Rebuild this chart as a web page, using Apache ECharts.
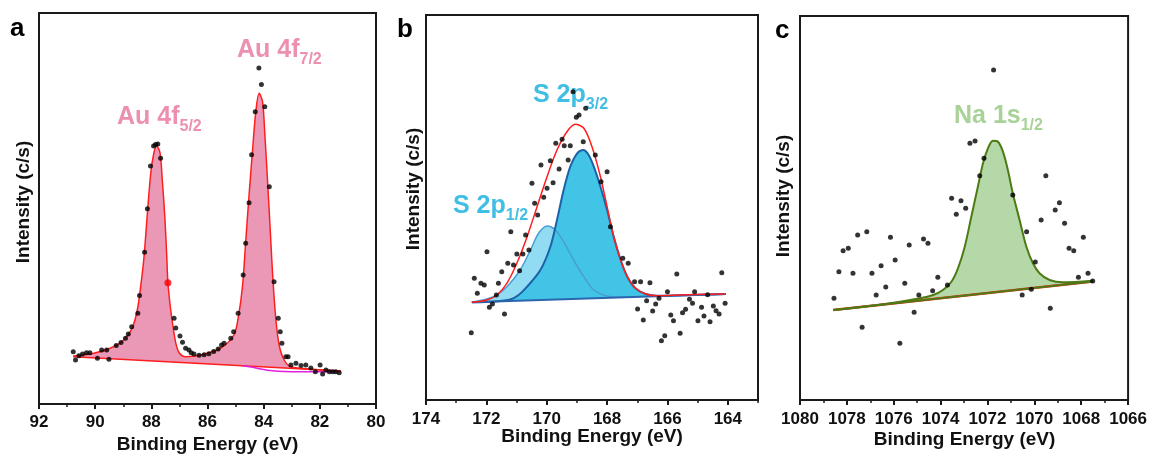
<!DOCTYPE html>
<html>
<head>
<meta charset="utf-8">
<script src="https://cdn.jsdelivr.net/npm/echarts@6/dist/echarts.min.js"></script>
<style>
  html, body { margin: 0; padding: 0; background: #fff; }
  #chart { width: 1150px; height: 455px; }
</style>
</head>
<body>
<div id="chart"></div>
<script>
// tick labels
var aTicks = [80, 82, 84, 86, 88, 90, 92];
var aMinor = [81, 83, 85, 87, 89, 91];
var bTicks = [164, 166, 168, 170, 172, 174];
var bMinor = [163, 165, 167, 169, 171, 173];
var cTicks = [1066, 1068, 1070, 1072, 1074, 1076, 1078, 1080];
var cMinor = [1067, 1069, 1071, 1073, 1075, 1077, 1079];

// a: Au 4f  [binding energy eV, intensity a.u.]
var auDots = [
  [90.78, 52.3], [90.70, 44], [90.58, 48.3], [90.45, 50], [90.31, 51.3], [90.19, 51.3],
  [89.92, 45.7], [89.77, 54], [89.59, 54], [89.51, 44.7], [89.25, 58.5], [89.08, 61.5],
  [88.92, 65.7], [88.82, 70], [88.70, 77.3], [88.48, 90.7], [88.42, 108.5], [88.24, 151.8],
  [88.14, 195.2], [88.03, 238], [87.92, 258], [87.85, 259.5], [87.77, 260], [87.67, 245.7],
  [87.19, 85.7], [87.13, 76], [86.98, 68], [86.89, 61.8], [86.78, 55.7], [86.66, 54],
  [86.58, 51.3], [86.48, 50], [86.30, 48.8], [86.12, 49.2], [85.95, 50.2], [85.78, 52.5],
  [85.62, 55], [85.50, 59], [85.41, 60.7], [85.17, 65.7], [85.07, 72.3], [84.91, 90.7],
  [84.73, 129], [84.64, 160.7], [84.52, 201.3], [84.43, 249.3], [84.30, 292.3], [84.17, 336],
  [84.08, 319.5], [83.96, 297.3], [83.80, 217.3], [83.63, 122.3], [83.48, 85.7], [83.41, 72.3],
  [83.35, 60.7], [83.21, 47.3], [83.13, 47.3], [83.03, 39], [82.85, 40.7], [82.67, 38.5],
  [82.50, 39], [82.32, 36], [82.16, 32.3], [81.99, 39], [81.90, 30], [81.78, 34],
  [81.66, 32.3], [81.54, 32.3], [81.43, 32.3], [81.31, 31.3]
];
var auMarked = [[87.41, 121.3]];
var auFit = [
  [90.78, 48], [90.05, 50.7], [89.45, 56], [88.98, 64], [88.68, 76], [88.50, 94],
  [88.38, 117.3], [88.26, 147.3], [88.14, 191], [88.02, 231], [87.91, 251], [87.81, 258],
  [87.69, 251], [87.61, 224], [87.52, 187.3], [87.45, 147.3], [87.41, 121.3], [87.31, 94],
  [87.21, 74], [87.13, 61], [87.01, 51.3], [86.78, 47.3], [86.24, 49], [85.53, 56],
  [85.06, 69], [84.89, 89], [84.75, 119], [84.64, 162.3], [84.52, 209], [84.40, 252.3],
  [84.28, 292.3], [84.16, 310.7], [84.04, 302.3], [83.95, 265.7], [83.86, 222.3], [83.77, 176],
  [83.68, 129], [83.57, 86], [83.45, 59], [83.27, 44], [83.03, 37.3], [82.2, 34.6], [81.25, 33]
];
var auBase = [[90.78, 47.3], [81.25, 33]];
var auShirley = [
  [84.75, 38.2], [84.45, 37], [84.15, 35.3], [83.85, 33.8], [83.5, 32.8], [83.0, 32.3],
  [82.0, 32.2], [81.25, 32.4]
];

// b: S 2p
var sDots = [
  [172.50, 67.3], [172.40, 121.7], [172.30, 106.7], [172.18, 116.7], [172.07, 115], [171.98, 148.3],
  [171.90, 92.7], [171.80, 96], [171.67, 105], [171.60, 116.7], [171.49, 128.3], [171.40, 86],
  [171.29, 136.7], [171.19, 168.3], [171.10, 135], [170.99, 146], [170.90, 129.3], [170.79, 146],
  [170.70, 165], [170.59, 150], [170.49, 216.7], [170.40, 196.7], [170.30, 185], [170.19, 235],
  [170.10, 202.7], [169.99, 211.7], [169.88, 239.3], [169.79, 217.3], [169.70, 256.7], [169.59, 231],
  [169.49, 260.7], [169.42, 254.3], [169.29, 240], [169.22, 254.3], [169.13, 308.3], [169.02, 282.7],
  [168.93, 285], [168.79, 258.3], [168.71, 291.7], [168.39, 245], [168.20, 218.3], [168.00, 228.3],
  [167.89, 173.3], [167.48, 141.7], [167.30, 136.7], [167.09, 118.3], [166.99, 91], [166.89, 118.3],
  [166.80, 80], [166.69, 99.3], [166.58, 117.3], [166.49, 89], [166.39, 96], [166.28, 101.7],
  [166.20, 59.3], [166.09, 64.3], [166.00, 108.3], [165.89, 85], [165.80, 79.3], [165.69, 126],
  [165.58, 66.7], [165.50, 87.3], [165.40, 90.7], [165.27, 100.7], [165.17, 96.7], [165.10, 108.3],
  [164.99, 79.3], [164.87, 92.7], [164.79, 84], [164.67, 105.3], [164.59, 78.3], [164.48, 94],
  [164.39, 89.3], [164.29, 86], [164.20, 127.3], [164.09, 96.7]
];
var sEnvelope = [
  [172.48, 97.7], [171.98, 100], [171.65, 105], [171.32, 116.7], [170.99, 136.7], [170.65, 163.3],
  [170.32, 193.3], [169.99, 223.3], [169.66, 250], [169.33, 268.3], [169.05, 275.7], [168.77, 271.7],
  [168.50, 253.3], [168.22, 223.3], [168.00, 193.3], [167.78, 163.3], [167.55, 140], [167.33, 123.3],
  [167.06, 111.7], [166.72, 106], [166.34, 104.2], [165.12, 105.4], [164.07, 106]
];
var s32 = [
  [172.48, 97.7], [171.7, 98.5], [171.21, 100.5], [170.93, 105], [170.65, 113.3], [170.21, 130],
  [169.88, 153.3], [169.66, 180], [169.44, 210], [169.22, 233.3], [168.99, 246.7], [168.79, 250],
  [168.61, 245], [168.44, 233.3], [168.22, 213.3], [168.00, 190], [167.78, 163.3], [167.55, 140],
  [167.33, 123.3], [167.06, 111.7], [166.72, 106], [166.34, 104.2], [164.07, 106]
];
var s12 = [
  [172.48, 97.7], [171.76, 103.3], [171.32, 113.3], [170.88, 130], [170.54, 150], [170.27, 166.7],
  [169.99, 174], [169.71, 170], [169.44, 158.3], [169.11, 140], [168.77, 123.3], [168.44, 110],
  [168.00, 104], [167.55, 103], [167.2, 103.3]
];
var sBase = [[172.48, 97.7], [164.07, 106]];

// c: Na 1s
var naDots = [
  [1078.55, 101.7], [1078.34, 128.3], [1078.16, 149.3], [1077.94, 151.7], [1077.74, 126.7], [1077.54, 165],
  [1077.35, 72.7], [1077.15, 168.3], [1076.93, 126.7], [1076.75, 105], [1076.54, 134.3], [1076.34, 113],
  [1076.14, 162.7], [1075.94, 140], [1075.74, 56.7], [1075.53, 116.7], [1075.34, 155], [1075.13, 87.7],
  [1074.93, 105], [1074.73, 161], [1074.54, 156.7], [1074.34, 109.3], [1074.12, 122.7], [1073.71, 115],
  [1073.53, 201.7], [1073.33, 185.7], [1073.13, 199.3], [1072.93, 191.7], [1072.75, 256.7], [1072.53, 259],
  [1072.33, 224.3], [1072.15, 241.7], [1071.74, 330], [1070.92, 205], [1070.52, 105], [1070.33, 168.3],
  [1070.13, 110.7], [1069.96, 138], [1069.71, 180], [1069.51, 224.3], [1069.32, 91.7], [1069.11, 190],
  [1068.93, 197.3], [1068.71, 176.7], [1068.52, 151.7], [1068.32, 149.3], [1068.12, 122.7], [1067.91, 162.7],
  [1067.71, 126.7], [1067.51, 119]
];
var naFit = [
  [1078.58, 90], [1076.6, 95.2], [1074.89, 101.7], [1074.32, 105], [1073.90, 110], [1073.54, 118.3],
  [1073.26, 131.7], [1072.97, 153.3], [1072.69, 183.3], [1072.41, 213.3], [1072.19, 236.7], [1071.98, 251.7],
  [1071.77, 259.3], [1071.55, 258.3], [1071.34, 248.3], [1071.13, 230], [1070.92, 206.7], [1070.63, 180],
  [1070.34, 153.3], [1070.06, 136.7], [1069.78, 126.7], [1069.35, 120], [1068.79, 117.7], [1067.51, 119.3]
];
var naBase = [[1078.58, 90], [1067.51, 118.5]];

var FONT = '"Liberation Sans", Arial, sans-serif';
var INK = '#1a1a1a';

function grid(left, top, width, height) {
    return {
        left: left, top: top, width: width, height: height,
        show: true, borderColor: INK, borderWidth: 2,
        backgroundColor: 'transparent', z: 10
    };
}

function mainX(gi, min, max, ticks, margin) {
    return {
        gridIndex: gi, type: 'value', inverse: true, min: min, max: max, position: 'bottom',
        axisLine: { show: false },
        splitLine: { show: false },
        axisTick: { show: true, length: 5, lineStyle: { color: INK, width: 2 }, customValues: ticks },
        axisLabel: {
            customValues: ticks, margin: margin, color: '#111',
            fontSize: 17, fontWeight: 'bold', fontFamily: FONT,
            formatter: function (v) { return String(v); }
        }
    };
}

function minorX(gi, min, max, ticks) {
    return {
        gridIndex: gi, type: 'value', inverse: true, min: min, max: max, position: 'bottom',
        axisLine: { show: false },
        splitLine: { show: false },
        axisLabel: { show: false },
        axisTick: { show: true, length: 3, lineStyle: { color: INK, width: 1.5 }, customValues: ticks }
    };
}

function fill(data, color, gi, z) {
    return {
        type: 'line', xAxisIndex: gi, yAxisIndex: gi, data: data, smooth: 0.3,
        symbol: 'none', lineStyle: { width: 0, opacity: 0 },
        areaStyle: { color: color, opacity: 1, origin: 'start' }, z: z, silent: true
    };
}

// white cover below the background line, a little wider than the peak fills
function mask(base, gi) {
    var pad = 0.2;
    var data = [[base[0][0] + pad, base[0][1]], base[0], base[1], [base[1][0] - pad, base[1][1]]];
    return {
        type: 'line', xAxisIndex: gi, yAxisIndex: gi, data: data, smooth: false,
        symbol: 'none', lineStyle: { width: 0, opacity: 0 },
        areaStyle: { color: '#ffffff', opacity: 1, origin: 'start' }, z: 2, silent: true
    };
}

function curve(data, color, width, gi, z) {
    return {
        type: 'line', xAxisIndex: gi, yAxisIndex: gi, data: data, smooth: 0.3,
        symbol: 'none', lineStyle: { color: color, width: width }, z: z, silent: true
    };
}

function dots(data, color, size, gi, z) {
    return {
        type: 'scatter', xAxisIndex: gi, yAxisIndex: gi, data: data,
        symbol: 'circle', symbolSize: size, itemStyle: { color: color }, z: z
    };
}

function peakLabel(x, y, main, sub, color) {
    return {
        type: 'text', x: x, y: y, z: 1,
        style: {
            text: '{m|' + main + '}{s|' + sub + '}',
            verticalAlign: 'top', align: 'left',
            rich: {
                m: { fontSize: 25, fontWeight: 'bold', fontFamily: FONT, fill: color, lineHeight: 25, verticalAlign: 'top' },
                s: { fontSize: 16, fontWeight: 'bold', fontFamily: FONT, fill: color, lineHeight: 16, verticalAlign: 'top', padding: [14, 0, 0, 0] }
            }
        }
    };
}

function yTitle(x, y) {
    return {
        type: 'text', x: x, y: y, rotation: Math.PI / 2,
        style: {
            text: 'Intensity (c/s)', align: 'center', verticalAlign: 'middle',
            font: 'bold 19px ' + FONT, fill: '#111'
        }
    };
}

function xTitle(x, y) {
    return {
        type: 'text', x: x, y: y,
        style: {
            text: 'Binding Energy (eV)', align: 'center', verticalAlign: 'middle',
            font: 'bold 19px ' + FONT, fill: '#111'
        }
    };
}

function letter(x, y, t) {
    return {
        type: 'text', x: x, y: y,
        style: { text: t, align: 'left', verticalAlign: 'middle', font: 'bold 26px ' + FONT, fill: '#000' }
    };
}

var option = {
    animation: false,
    backgroundColor: '#fff',
    grid: [
        grid(39, 13, 337, 391),
        grid(426, 15, 332, 385),
        grid(800, 16, 329, 384)
    ],
    xAxis: [
        mainX(0, 80, 92, aTicks, 10),
        mainX(1, 163, 174, bTicks, 11),
        mainX(2, 1066, 1080, cTicks, 11),
        minorX(0, 80, 92, aMinor),
        minorX(1, 163, 174, bMinor),
        minorX(2, 1066, 1080, cMinor)
    ],
    yAxis: [
        { gridIndex: 0, type: 'value', min: 0, max: 391, show: false },
        { gridIndex: 1, type: 'value', min: 0, max: 385, show: false },
        { gridIndex: 2, type: 'value', min: 0, max: 384, show: false }
    ],
    series: [
        // a
        fill(auFit, '#eb98b6', 0, 1),
        mask(auBase, 0),
        curve(auBase, '#ff1e1e', 1.5, 0, 3),
        curve(auShirley, '#e020e0', 1.5, 0, 3),
        curve(auFit, '#ff1e1e', 1.5, 0, 3),
        dots(auDots, '#000', 5, 0, 4),
        dots(auMarked, '#ff0000', 7, 0, 5),
        // b
        fill(s12, '#91dcf2', 1, 1),
        fill(s32, '#42c4e6', 1, 1),
        mask(sBase, 1),
        curve(s12, '#4a9fd2', 1.5, 1, 3),
        curve(s32, '#1d62a8', 2, 1, 3),
        curve(sBase, '#2a66b0', 2, 1, 3),
        curve(sEnvelope, '#ff1e1e', 1.5, 1, 3),
        dots(sDots, '#000', 5, 1, 4),
        // c
        fill(naFit, '#b5d8a8', 2, 1),
        mask(naBase, 2),
        curve(naBase, '#ff1e1e', 2.5, 2, 3),
        curve(naBase, '#4e7a14', 1.8, 2, 3),
        curve(naFit, '#4e7a14', 2, 2, 3),
        dots(naDots, '#000', 5, 2, 4)
    ],
    graphic: [
        letter(10, 29, 'a'),
        letter(397, 30, 'b'),
        letter(775, 31, 'c'),
        yTitle(23.5, 202),
        yTitle(413.5, 189),
        yTitle(783.5, 196),
        xTitle(207.5, 445),
        xTitle(592, 437),
        xTitle(964.5, 440),
        peakLabel(117, 105, 'Au 4f', '5/2', '#ec8fb1'),
        peakLabel(237, 38, 'Au 4f', '7/2', '#ec8fb1'),
        peakLabel(533, 83, 'S 2p', '3/2', '#40bee4'),
        peakLabel(453, 194, 'S 2p', '1/2', '#40bee4'),
        peakLabel(954, 104, 'Na 1s', '1/2', '#a8d298')
    ]
};

var chart = echarts.init(document.getElementById('chart'), null, { renderer: 'canvas' });
chart.setOption(option);
</script>
</body>
</html>
